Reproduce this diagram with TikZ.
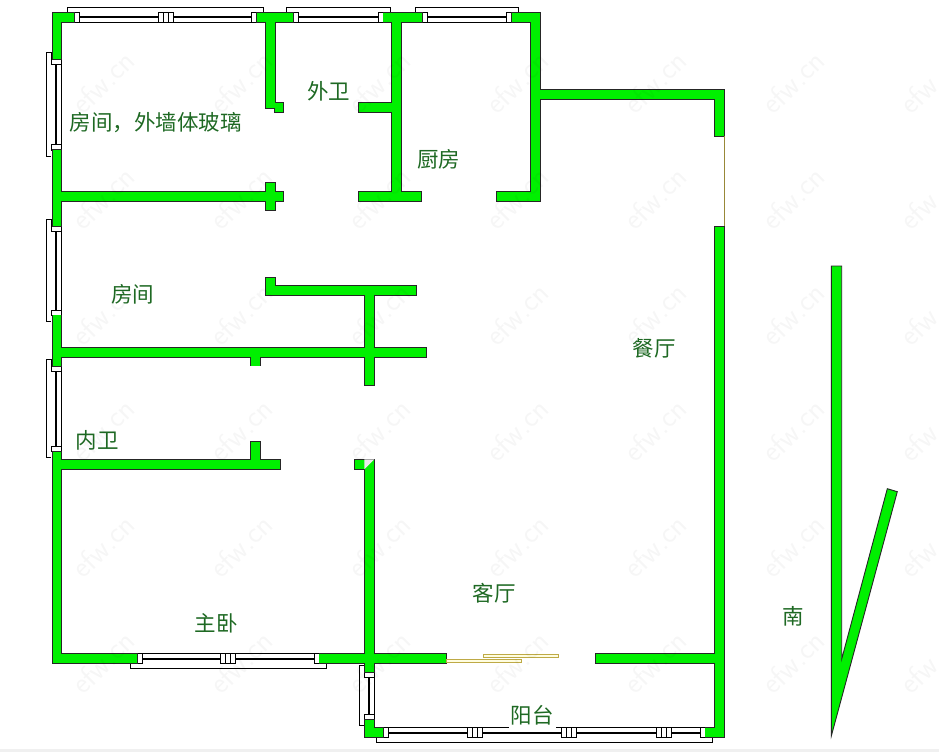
\documentclass[tikz,border=0pt]{standalone}
\usepackage{fontspec}
\newfontfamily\cjk{Noto Sans CJK SC}
\usetikzlibrary{positioning}

\definecolor{wallGreen}{RGB}{0,240,0}
\definecolor{doorTan}{RGB}{190,170,70}
\definecolor{labelGreen}{RGB}{30,105,35}

\begin{document}
\begin{tikzpicture}[
    x=1pt,
    y=-1pt,
    wallLine/.style = {
        draw=black!85,
        line width=1.6pt,
    },
    wallFill/.style = {
        fill=wallGreen,
    },
    winLine/.style = {
        draw=black,
        line width=0.8pt,
    },
    winCell/.style = {
        winLine,
        fill=white,
    },
    door/.style = {
        draw=doorTan,
        fill=yellow!12,
        line width=0.7pt,
    },
    room/.style = {
        text=labelGreen,
        inner sep=0pt,
        font=\cjk\fontsize{21.5}{22}\selectfont,
    },
    stamp/.style = {
        text=black,
        text opacity=0.035,
        rotate=45,
        inner sep=0pt,
        font=\sffamily\fontsize{30}{30}\selectfont,
    },
]

\newcommand{\wallPieces}{
    52.5/13/74.3/22.3, 52.5/13/61/59.3, 52.5/150/61/226, 52.5/315.3/61/366,
    52.5/451.7/61/662.8, 52.5/191.8/283.2/201.2, 265.8/182.8/275.2/210.2,
    52.5/347.8/426.2/356.8, 250.8/347.8/260.2/365.5, 364.8/295.2/373.8/384.8,
    265.8/285.8/416.2/295.2, 265.8/277.5/275.2/295.2, 52.5/459.8/280.2/468.8,
    250.8/441.8/260.2/468.8, 354.8/459.8/373.8/468.8, 364.8/459.8/373.8/671.7,
    52.5/653.8/136.7/662.8, 319.3/653.8/445.8/662.8, 595.8/653.8/714.7/662.8,
    364.8/719.7/373.8/736.8, 364.8/727.8/383.3/736.8, 705.3/727.8/723.8/736.8,
    715.2/226.5/723.8/736.8, 715.2/89.8/723.8/135.8, 540/89.8/723.8/98.8,
    530.8/13/539.8/201.2, 511.7/13/539.8/21.8, 496.8/191.8/539.8/201.2,
    391.8/13/401.2/201.2, 383.3/13/421.7/21.8, 358.8/191.8/421.2/201.2,
    358.8/102.8/401.2/111.8, 265.8/13/274.8/107.8, 256.7/13/293.3/21.8,
    274.8/102.8/283.2/111.8%
}

\newcommand{\hwin}[4]{
    \draw[winLine] (#1,#3) -- (#2,#3);
    \draw[winLine] (#1,#3+4.8*#4) -- (#2,#3+4.8*#4);
    \draw[winLine] (#1,#3+6.3*#4) -- (#2,#3+6.3*#4);
    \draw[winLine] (#1,#3+10*#4) -- (#1-6.7,#3+10*#4) -- (#1-6.7,#3+15*#4)
        -- (#2+6.7,#3+15*#4) -- (#2+6.7,#3+10*#4);
    \draw[winCell] (#1,#3) rectangle (#1+5.2,#3+10*#4);
    \draw[winCell] (#2-5.2,#3) rectangle (#2,#3+10*#4);
}

\newcommand{\vwin}[4]{
    \draw[winLine] (#3,#1) -- (#3,#2);
    \draw[winLine] (#3+4.8*#4,#1) -- (#3+4.8*#4,#2);
    \draw[winLine] (#3+6.3*#4,#1) -- (#3+6.3*#4,#2);
    \draw[winLine] (#3+10*#4,#1) -- (#3+10*#4,#1-6.5) -- (#3+15*#4,#1-6.5)
        -- (#3+15*#4,#2+6) -- (#3+10*#4,#2+6);
    \draw[winCell] (#3,#1) rectangle (#3+10*#4,#1+5.3);
    \draw[winCell] (#3,#2-5.3) rectangle (#3+10*#4,#2);
}

\newcommand{\mullion}[3]{
    \draw[winCell] (#1,#2) rectangle (#1+15.5,#3);
    \draw[winLine] (#1+5.2,#2) -- (#1+5.2,#3);
    \draw[winLine] (#1+10.4,#2) -- (#1+10.4,#3);
}

\useasboundingbox (0,0) rectangle (939,752);
\fill[black!6] (0,749) rectangle (939,752);

\hwin{74.3}{256.7}{22.3}{-1}
\mullion{158.3}{12.5}{22.3}
\hwin{293.3}{383.3}{22.3}{-1}
\hwin{421.7}{511.7}{22.3}{-1}
\hwin{136.7}{319.3}{653.3}{1}
\mullion{220}{653.3}{663.3}
\hwin{383.3}{705.3}{727.3}{1}
\mullion{467.3}{727.3}{737.3}
\mullion{561.3}{727.3}{737.3}
\mullion{656.3}{727.3}{737.3}
\vwin{59.3}{150}{61.3}{-1}
\vwin{226}{315.3}{61.3}{-1}
\vwin{366}{451.7}{61.3}{-1}
\vwin{671.7}{719.7}{374.3}{-1}

\foreach \xa/\ya/\xb/\yb in \wallPieces {
    \path[wallLine] (\xa,\ya) rectangle (\xb,\yb);
}
\foreach \xa/\ya/\xb/\yb in \wallPieces {
    \fill[wallFill] (\xa,\ya) rectangle (\xb,\yb);
}
\fill[white!92!black] (364.3,469.3) -- (374.3,459.3) -- (364.3,459.3) -- cycle;

\draw[door] (446.3,659) rectangle (521.7,662.7);
\draw[door] (483.3,654) rectangle (558.7,657.7);
\draw[doorTan!80!black, line width=0.9pt] (724,136.3) -- (724,226);

\path[wallLine, wallFill, line width=0.9pt] (831.3,266) -- (841.7,266) -- (841.7,659)
    -- (887.3,488.7) -- (897.3,491.7) -- (831.3,736) -- cycle;

\node[room] (bedroomGlass) at (155.5,123) {房间，外墙体玻璃};
\node[room] (outerBath) at (328.5,91) {外卫};
\node[room] (kitchen) at (438.5,159) {厨房};
\node[room] (bedroom) at (132.5,294) {房间};
\node[room] (innerBath) at (97,440) {内卫};
\node[room] (masterBedroom) at (216,623) {主卧};
\node[room] (livingRoom) at (494,593) {客厅};
\node[room] (diningRoom) at (654,348) {餐厅};
\node[room] (south) at (793,616) {南};
\node[room, fill=white, inner sep=2pt, inner ysep=3pt] (balcony) at (532,715.5) {阳台};

\foreach \col in {103,241,379,517,655,793,931} {
    \foreach \row in {82,198,314,430,546,662} {
        \node[stamp] (mark\col\row) at (\col,\row) {efw.cn};
    }
}

\end{tikzpicture}
\end{document}
